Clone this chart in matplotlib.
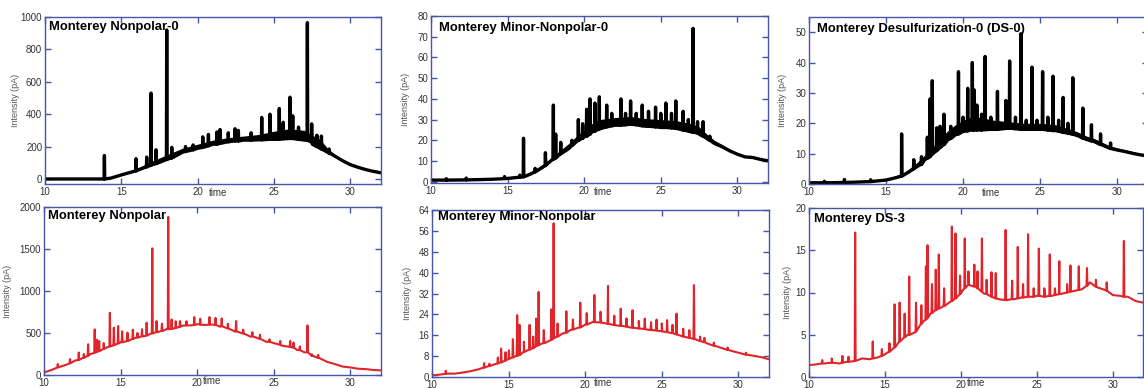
import matplotlib
matplotlib.use('Agg')
import matplotlib.pyplot as plt
import numpy as np

plt.rcParams['font.family'] = ['Liberation Sans', 'DejaVu Sans']

# ---- Monterey Nonpolar-0 (black) ----
NP0_T = [10, 13.8, 14.3, 15, 16, 17, 18, 19, 20, 21, 22, 23, 24, 25, 26, 27, 27.5, 28, 28.5, 29, 29.5, 30, 30.5, 31, 31.5, 32]
NP0_LO = [0, 0, 5, 25, 52, 87, 122, 165, 190, 215, 230, 240, 242, 245, 250, 240, 215, 190, 165, 140, 112, 88, 72, 58, 47, 38]
NP0_HI = [0, 0, 8, 35, 65, 110, 150, 190, 215, 240, 255, 265, 275, 295, 310, 300, 270, 245, 190, 150, 118, 92, 76, 62, 50, 41]
NP0_PK_T = [13.89, 15.96, 16.66, 16.94, 17.27, 17.97, 18.3, 19.2, 19.7, 20.33, 20.7, 21.25, 21.46, 22.0, 22.44, 22.66, 23.5,
            24.19, 24.73, 25.34, 25.6, 26.04, 26.22, 26.6, 27.18, 27.46, 27.8, 28.1, 28.6]
NP0_PK_LO = [0, 50, 75, 85, 95, 120, 130, 170, 180, 195, 205, 215, 220, 230, 235, 235, 240,
             242, 245, 245, 248, 250, 250, 245, 240, 230, 200, 185, 160]
NP0_PK_HI = [145, 125, 135, 530, 180, 920, 195, 200, 210, 260, 275, 290, 305, 285, 310, 300, 285,
             380, 400, 435, 350, 505, 390, 320, 965, 340, 270, 265, 185]

# ---- Monterey Minor-Nonpolar-0 (black) ----
MN0_T = [10, 11, 12, 13, 14, 15, 15.5, 16, 16.5, 17, 17.5, 18, 18.5, 19, 19.5, 20, 20.5, 21, 22, 23, 24, 25, 26, 27,
         27.5, 28, 28.5, 29, 29.5, 30, 30.5, 31, 31.5, 32]
MN0_LO = [0.8, 0.8, 0.9, 1.0, 1.2, 1.6, 2.0, 2.4, 3.7, 5.6, 8, 10.8, 13.6, 16, 19.3, 21.7, 24, 25.7, 27.3, 27.8, 26.8,
          26.2, 25.7, 24, 23, 20.9, 18.5, 16.9, 14.9, 13.3, 12, 11.7, 10.8, 10.1]
MN0_HI = [1.2, 1.3, 1.4, 1.5, 1.8, 2.3, 2.8, 3.2, 4.8, 7, 9.5, 12.5, 15.5, 18.5, 22, 25, 28, 30, 31, 31.5, 30.5, 30,
          29.5, 28, 26.5, 23, 20, 18, 15.8, 14, 12.6, 12.2, 11.3, 10.6]
MN0_PK_T = [11.0, 12.3, 14.8, 15.8, 16.04, 16.8, 17.47, 17.99, 18.14, 18.47, 19.2, 19.62, 19.9, 20.16, 20.38, 20.7,
            20.99, 21.47, 21.8, 22.4, 22.7, 23.03, 23.4, 23.79, 24.2, 24.66, 25.0, 25.33, 25.7, 25.98, 26.46, 26.8,
            27.11, 27.4, 27.76, 28.2]
MN0_PK_LO = [0.8, 0.9, 1.5, 2.2, 2.4, 4.8, 7.8, 11, 11.5, 13.5, 17.5, 20, 21, 22, 23, 24.5, 25.5, 26.5, 27, 27.3,
             27.5, 27.8, 27.5, 27, 26.8, 26.5, 26.2, 26.2, 26, 25.8, 25, 24.5, 24, 23.5, 22, 20]
MN0_PK_HI = [1.5, 1.8, 2.5, 3.2, 21, 6.5, 14, 37, 23, 19, 20, 30, 28, 35, 40, 38, 41, 37, 33, 40, 33, 39, 33, 37, 34,
             36, 33, 38, 33, 39, 34, 30, 74, 29, 29, 22]

# ---- Monterey Desulfurization-0 (black) ----
DS0_T = [10, 11, 12, 13, 14, 15, 15.5, 16, 16.5, 17, 17.5, 18, 18.5, 19, 19.5, 20, 20.5, 21, 22, 23, 24, 25, 26, 27,
         27.5, 28, 28.5, 29, 29.5, 30, 30.5, 31, 31.5, 32]
DS0_LO = [0.4, 0.4, 0.5, 0.6, 0.8, 1.3, 1.9, 2.6, 4, 5.7, 7.9, 9.9, 12.3, 14.5, 16.2, 17.3, 17.8, 17.8, 18, 18.4, 18,
          18, 17.6, 16.5, 15.8, 14.7, 14, 12.9, 11.8, 11.2, 10.7, 10.1, 9.6, 9.2]
DS0_HI = [0.7, 0.8, 0.9, 1, 1.2, 1.8, 2.5, 3.3, 5, 7, 9.5, 12, 15, 17.5, 19.5, 21, 22, 22, 21, 20.5, 20, 20, 19.5, 18,
          17, 15.8, 15, 13.8, 12.6, 11.9, 11.3, 10.7, 10.1, 9.7]
DS0_PK_T = [11.0, 12.3, 14.0, 16.01, 16.8, 17.3, 17.68, 17.85, 18.0, 18.29, 18.5, 18.76, 19.2, 19.7, 20.0, 20.3, 20.6,
            20.72, 20.9, 21.2, 21.43, 21.8, 22.23, 22.78, 23.02, 23.4, 23.75, 24.1, 24.47, 24.8, 25.16, 25.5, 25.84,
            26.2, 26.49, 26.8, 27.12, 27.77, 28.33, 28.92, 29.57]
DS0_PK_LO = [0.4, 0.5, 0.8, 2.6, 5, 6.5, 8.5, 9, 9.9, 11, 12, 13, 15, 16.5, 17.3, 17.5, 17.8, 17.8, 17.8, 17.8, 17.9,
             18, 18, 18.3, 18.4, 18.2, 18, 18, 18, 18, 18, 17.8, 17.6, 17.4, 17, 16.8, 16.4, 15.1, 14.2, 13, 11.7]
DS0_PK_HI = [0.9, 1.5, 1.4, 16.5, 8, 9, 15.4, 28, 34, 18.5, 19, 23, 19, 37, 22, 31.5, 40, 31, 26, 23, 42, 22, 30.5,
             27.5, 40.5, 22, 49.5, 21, 38.5, 21, 37, 22, 35.5, 21, 28.5, 20, 35, 25, 19.5, 16.5, 13.5]

# ---- red traces share a 0.5 min grid for the baseline ----
RED_T = [10, 10.5, 11, 11.5, 12, 12.5, 13, 13.5, 14, 14.5, 15, 15.5, 16, 16.5, 17, 17.5, 18, 18.5, 19, 19.5, 20, 20.5,
         21, 21.5, 22, 22.5, 23, 23.5, 24, 24.5, 25, 25.5, 26, 26.5, 27, 27.5, 28, 28.5, 29, 29.5, 30, 30.5, 31, 31.5, 32]

# ---- Monterey Nonpolar (red) ----
NP_Y = [30, 60, 95, 125, 170, 200, 245, 280, 320, 350, 390, 405, 445, 460, 495, 515, 545, 555, 585, 590, 605, 595, 600,
        575, 555, 515, 495, 455, 435, 395, 380, 350, 335, 300, 270, 225, 200, 155, 130, 100, 90, 75, 70, 60, 55]
NP_PK_T = [10.9, 11.7, 12.27, 12.6, 12.88, 13.31, 13.45, 13.6, 13.9, 14.3, 14.56, 14.84, 15.1, 15.45, 15.8, 16.1, 16.4,
           16.7, 17.07, 17.35, 17.7, 18.11, 18.33, 18.6, 18.88, 19.3, 19.81, 20.2, 20.8, 21.2, 21.6, 22.0, 22.54, 23.0,
           23.6, 24.1, 24.72, 25.42, 26.07, 26.29, 26.7, 27.2, 27.49, 27.9]
NP_PK_LO = [90, 140, 180, 205, 230, 265, 275, 285, 310, 340, 355, 375, 390, 405, 430, 445, 460, 470, 495, 510, 525, 545,
            550, 560, 575, 590, 595, 600, 600, 595, 580, 555, 520, 495, 460, 430, 395, 360, 335, 325, 295, 270, 230, 205]
NP_PK_HI = [130, 190, 268, 250, 366, 543, 420, 405, 380, 740, 563, 583, 520, 504, 540, 500, 545, 622, 1508, 642, 610,
            1882, 661, 640, 642, 640, 689, 670, 689, 680, 673, 610, 642, 540, 510, 480, 425, 405, 405, 386, 340, 590,
            248, 240]

# ---- Monterey Minor-Nonpolar (red) ----
MN_Y = [0.6, 0.9, 1.3, 1.3, 1.7, 2.2, 2.9, 3.8, 4.7, 5.8, 7.0, 8.1, 9.6, 10.9, 12.4, 13.4, 15.0, 16.6, 17.9, 18.8, 20.1,
        21.1, 20.9, 20.4, 19.8, 19.5, 18.9, 18.6, 18.2, 17.9, 17.5, 17.0, 16.3, 15.4, 14.7, 13.8, 12.8, 11.9, 10.9, 10.1,
        9.3, 8.6, 8.1, 7.6, 6.8]
MN_PK_T = [10.9, 13.4, 13.75, 14.3, 14.51, 14.8, 15.02, 15.28, 15.56, 15.71, 16.0, 16.37, 16.6, 16.8, 16.96, 17.3, 17.79,
           17.94, 18.2, 18.77, 19.2, 19.68, 20.1, 20.6, 21.0, 21.49, 21.9, 22.32, 22.7, 23.09, 23.5, 23.89, 24.3, 24.66,
           25.0, 25.35, 25.7, 25.96, 26.4, 26.8, 27.1, 27.5, 27.78, 28.4, 29.3, 30.5]
MN_PK_LO = [1.2, 3.6, 4.2, 5.2, 5.6, 6.3, 7.0, 7.5, 8.1, 8.4, 9.6, 10.5, 11.0, 11.8, 12.2, 13.0, 14.2, 14.8, 15.5, 17.0,
            18.2, 19.0, 20.1, 21.0, 20.9, 20.4, 19.9, 19.6, 19.3, 18.9, 18.6, 18.4, 18.0, 17.8, 17.5, 17.2, 16.8, 16.3,
            15.5, 15.0, 14.6, 13.8, 13.3, 12.0, 10.4, 8.6]
MN_PK_HI = [2.4, 5.3, 5.1, 7.5, 10.9, 9.5, 10.2, 14.5, 23.7, 20.0, 13.5, 20.0, 15.5, 22.4, 32.6, 18.0, 25.9, 58.9, 20.5,
            25.2, 22.0, 28.5, 24.5, 31.4, 25.0, 34.9, 23.5, 26.2, 22.5, 25.6, 21.5, 22.4, 21.0, 22.0, 20.5, 21.8, 20.0,
            24.3, 18.5, 18.0, 35.2, 15.5, 15.0, 13.2, 11.3, 9.3]

# ---- Monterey DS-3 (red) ----
DS3_Y = [1.4, 1.5, 1.6, 1.7, 1.6, 1.8, 1.9, 2.2, 2.1, 2.3, 2.7, 3.3, 4.2, 5.0, 5.3, 6.5, 7.5, 8.1, 8.5, 9.1, 9.9, 10.9,
         10.7, 9.9, 9.5, 9.2, 9.1, 9.2, 9.4, 9.5, 9.6, 9.5, 9.6, 9.8, 10.0, 10.2, 10.4, 11.2, 10.6, 10.3, 9.7, 9.6, 9.5,
         9.0, 8.8]
DS3_PK_T = [10.87, 11.5, 12.2, 12.6, 13.04, 14.2, 14.8, 15.3, 15.64, 15.97, 16.3, 16.6, 17.05, 17.4, 17.7, 17.81, 18.1,
            18.35, 18.55, 18.9, 19.41, 19.65, 19.95, 20.26, 20.5, 20.89, 21.1, 21.39, 21.7, 22.02, 22.3, 22.95, 23.38,
            23.75, 24.1, 24.43, 24.8, 25.14, 25.5, 25.86, 26.2, 26.49, 27.0, 27.22, 27.77, 28.31, 28.9, 29.61, 30.74]
DS3_PK_LO = [1.6, 1.7, 1.7, 1.8, 1.9, 2.2, 2.5, 3.0, 3.5, 4.2, 4.7, 5.0, 5.4, 6.3, 6.8, 7.0, 7.6, 7.9, 8.1, 8.4, 9.0,
             9.3, 9.8, 10.5, 10.9, 10.7, 10.5, 10.1, 9.8, 9.5, 9.3, 9.1, 9.2, 9.3, 9.4, 9.5, 9.5, 9.6, 9.5, 9.6, 9.7,
             9.8, 10.0, 10.1, 10.3, 10.8, 10.7, 10.2, 9.5]
DS3_PK_HI = [2.0, 2.2, 2.5, 2.4, 17.1, 4.2, 3.3, 4.0, 8.6, 8.8, 7.5, 11.9, 8.8, 8.5, 13.1, 15.6, 11.0, 12.7, 14.5, 10.5,
             17.8, 17.0, 12.0, 16.4, 12.5, 13.3, 12.5, 16.4, 11.5, 12.4, 12.3, 17.4, 11.4, 15.4, 11.0, 16.9, 10.5, 15.2,
             10.5, 14.5, 10.5, 13.7, 11.0, 13.2, 13.1, 12.9, 11.5, 11.2, 16.1]

SPINE = '#4656a8'
RED = '#e2232a'
W, H = 1144, 388


def trace(base_t, base_y, pk_t, pk_lo, pk_hi, w=0.03):
    # merge baseline points with narrow triangular peaks
    pts = list(zip(base_t, base_y))
    for t, lo, hi in zip(pk_t, pk_lo, pk_hi):
        pts += [(t - w, lo), (t, hi), (t + w, lo)]
    pts.sort(key=lambda p: p[0])
    return np.array(pts).T


def panel(fig, box, ylim, yticks, title, ylab_px, time_t, time_dy, title_off):
    l, r, t, b = box
    ax = fig.add_axes([l / W, (H - b) / H, (r - l) / W, (b - t) / H])
    ax.set_xlim(10, 32)
    ax.set_ylim(*ylim)
    ax.set_xticks([10, 15, 20, 25, 30])
    ax.set_yticks(yticks)
    for s in ax.spines.values():
        s.set_color(SPINE)
        s.set_linewidth(1.0)
    ax.tick_params(direction='in', top=True, right=True, length=4, width=1, color=SPINE,
                   labelsize=7, labelcolor='#333333', pad=2)
    ax.set_ylabel('Intensity (pA)', fontsize=6.5, color='#555555')
    ax.yaxis.set_label_coords(-ylab_px / (r - l), 0.5)
    ax.annotate('time', xy=(time_t, 0), xycoords=('data', 'axes fraction'), xytext=(0, -time_dy),
                textcoords='offset points', ha='center', va='center', fontsize=7, color='#333333')
    ax.annotate(title, xy=(0, 1), xycoords='axes fraction', xytext=(title_off[0] * 0.72, -title_off[1] * 0.72),
                textcoords='offset points', ha='left', va='center', fontsize=9.4, fontweight='bold', zorder=5)
    return ax


fig = plt.figure(figsize=(W / 100, H / 100), dpi=100)

ax = panel(fig, (45, 381, 17, 184), (-31, 1000), range(0, 1001, 200), 'Monterey Nonpolar-0', 25, 21.3, 6.5, (4, 10))
ax.fill_between(NP0_T, NP0_LO, NP0_HI, color='black', lw=0)
x, y = trace(NP0_T, NP0_LO, NP0_PK_T, NP0_PK_LO, NP0_PK_HI, w=0.02)
ax.plot(x, y, color='black', lw=2.4)

ax = panel(fig, (431, 768, 16, 183), (-0.6, 80), range(0, 81, 10), 'Monterey Minor-Nonpolar-0', 21, 21.2, 6.5, (8, 12))
ax.fill_between(MN0_T, MN0_LO, MN0_HI, color='black', lw=0)
x, y = trace(MN0_T, MN0_LO, MN0_PK_T, MN0_PK_LO, MN0_PK_HI, w=0.02)
ax.plot(x, y, color='black', lw=2.4)

ax = panel(fig, (809, 1148, 17, 184), (0, 55), range(0, 51, 10), 'Monterey Desulfurization-0 (DS-0)', 22, 21.8, 6.5, (8, 12))
ax.fill_between(DS0_T, DS0_LO, DS0_HI, color='black', lw=0)
x, y = trace(DS0_T, DS0_LO, DS0_PK_T, DS0_PK_LO, DS0_PK_HI, w=0.02)
ax.plot(x, y, color='black', lw=2.4)

ax = panel(fig, (44, 381, 207, 375), (0, 2000), range(0, 2001, 500), 'Monterey Nonpolar', 32, 21.0, 4.3, (4, 9))
x, y = trace(RED_T, NP_Y, NP_PK_T, NP_PK_LO, NP_PK_HI)
ax.plot(x, y, color=RED, lw=1.5)

ax = panel(fig, (432, 769, 210, 377), (0, 64), range(0, 65, 8), 'Monterey Minor-Nonpolar', 20, 21.15, 4.3, (6, 7))
x, y = trace(RED_T, MN_Y, MN_PK_T, MN_PK_LO, MN_PK_HI)
ax.plot(x, y, color=RED, lw=1.5)

ax = panel(fig, (809, 1143, 208, 377), (0, 20), range(0, 21, 5), 'Monterey DS-3', 17, 21.0, 4.3, (5, 11))
x, y = trace(RED_T, DS3_Y, DS3_PK_T, DS3_PK_LO, DS3_PK_HI)
ax.plot(x, y, color=RED, lw=1.5)

fig.savefig('out.png', dpi=100)
